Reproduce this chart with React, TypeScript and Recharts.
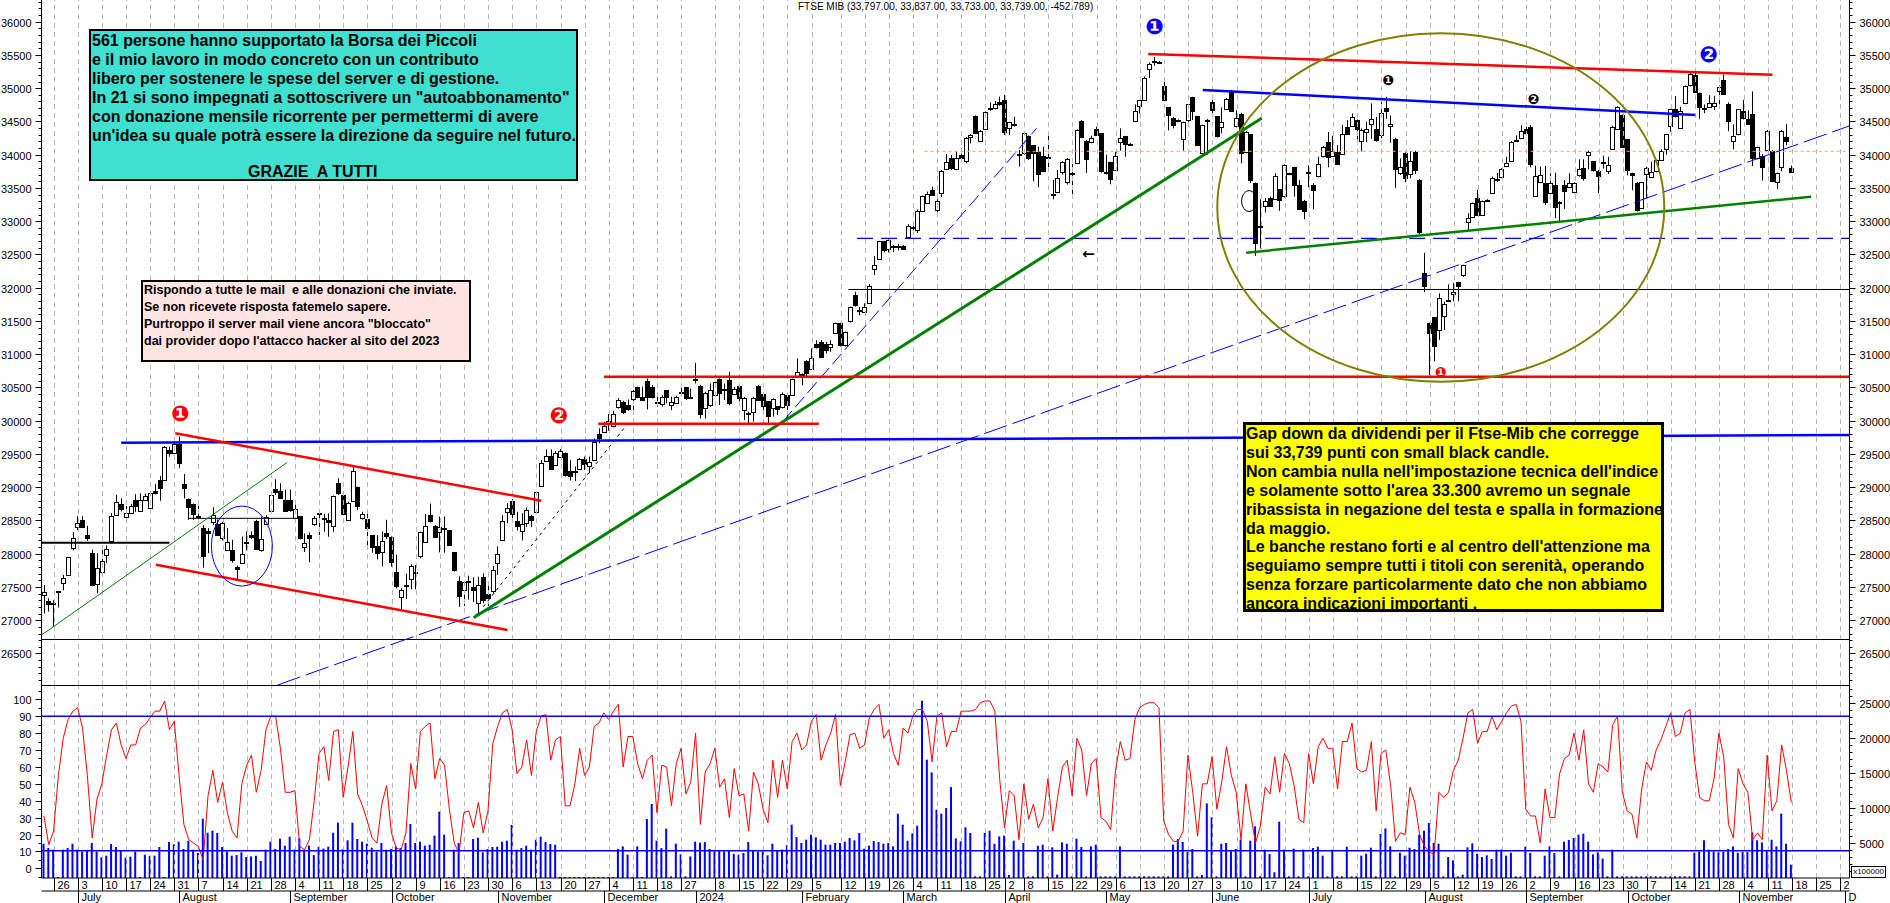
import { ComposedChart, Bar, Line, XAxis, YAxis, ReferenceLine, ReferenceDot } from "recharts";

const opens = [
  27370,27290,27260,27425,27570,27670,28090,28390,28500,28275,
  28005,27555,27720,27975,28180,28590,28755,28555,28615,28805,
  28650,28815,28690,28950,29105,29120,29560,29510,29650,29045,
  28830,28755,28560,28380,28340,28480,28445,28225,28055,28050,
  27805,27855,28155,28275,28490,28045,28440,28645,28970,28945,
  28815,28805,28530,28560,28105,28280,28435,28595,28540,28505,
  28425,29060,28880,28520,28795,29000,28530,28520,28280,28115,
  28025,28305,28245,27720,27350,27525,27625,27725,27955,28180,
  28575,28420,28330,28385,28350,28020,27585,27455,27585,27500,
  27250,27655,27400,27445,27855,28205,28615,28790,28485,28335,
  28450,28565,28630,29010,29400,29470,29330,29460,29510,29250,
  29235,29285,29430,29320,29420,29795,29835,29960,29910,30210,30285,30240,
  30335,30500,30350,30595,30510,30285,30260,30460,30230,30275,
  30420,30500,30360,30620,30525,30185,30235,30385,30625,30470,
  30610,30400,30520,30150,30105,30135,30525,30395,30295,30195,
  30220,30195,30385,30385,30675,30675,30895,30785,31150,31190,
  31160,31120,31315,31465,31130,31490,31890,31670,31640,31765,
  32290,32425,32695,32575,32620,32625,32630,32770,32910,32865,
  33145,33280,33465,33170,33415,33785,33945,33780,33990,33910,
  34260,34580,34210,34380,34695,34690,34790,34815,34395,34465,
  34010,34020,34280,34145,34045,33985,33965,33400,33430,33735,
  33585,33720,33870,34505,34205,34185,34380,34320,33735,33885,
  33780,34185,34280,34165,34500,34720,34820,35300,35385,35400,
  35035,34710,34545,34520,34230,34510,34865,34580,34020,34500,
  34790,34580,34420,34690,34950,34420,34610,34045,34305,33570,
  32910,33235,33345,33345,33480,33370,33720,33810,33550,33310,
  33740,33545,33670,33970,34195,33985,34045,34010,34420,34435,
  34520,34210,34330,34455,34380,34295,34695,34435,34230,33720,
  34025,33710,34040,33620,32215,31465,31555,31365,31565,31815,
  31900,32080,32190,32985,33055,33345,33105,33300,33435,33635,
  33655,33835,33915,34205,34260,34380,34420,33390,33580,
  33580,33435,33545,33295,33545,33510,33435,33685,33800,33995,
  33905,33755,33870,33760,34080,34390,34595,34235,33720,33580,
  33195,33720,33660,33745,33920,34085,34420,34680,34410,34770,
  35040,35200,34935,34700,34710,34725,34960,35125,34760,34205,
  34310,34650,34530,34610,33945,33980,34070,34060,33580,33810,
  34260,33797,
];

const highs = [
  27530,27330,27300,27440,27680,27950,28325,28565,28565,28420,
  28060,28005,28060,28125,28610,28885,28835,28720,28750,28895,
  28905,28905,28925,29050,29170,29620,29610,29735,29760,29200,
  28830,28755,28720,28430,28385,28700,28515,28480,28385,28210,
  27820,28260,28335,28335,28510,28560,28580,28895,29120,29060,
  28965,28965,28760,28560,28305,28320,28565,28620,28600,28610,
  28875,29135,28905,28780,29305,29010,28630,28605,28280,28280,
  28335,28510,28260,27985,27480,27700,27840,27830,28330,28595,
  28755,28430,28560,28560,28355,28020,27660,27580,27670,27645,
  27655,27705,27525,27815,28110,28580,28760,28820,28630,28610,
  28695,28585,28930,29410,29570,29570,29545,29575,29520,29410,
  29310,29440,29460,29460,29735,29885,29985,30100,30150,30340,30300,30320,
  30460,30510,30510,30635,30535,30360,30385,30460,30360,30375,
  30510,30510,30485,30870,30540,30435,30560,30585,30635,30560,
  30735,30510,30520,30360,30135,30360,30535,30410,30295,30335,
  30220,30425,30385,30635,30935,30710,30910,31085,31210,31210,
  31185,31210,31475,31475,31340,31715,31940,31710,31765,32055,
  32475,32705,32705,32725,32640,32660,32640,32955,32930,33175,
  33385,33445,33520,33330,33770,34010,33995,34045,34095,34260,
  34310,34590,34370,34650,34785,34810,34875,34900,34495,34570,
  34070,34330,34290,34145,34120,34120,34285,33620,33770,33900,
  33950,33860,34380,34520,34220,34285,34420,34320,34000,33895,
  34045,34395,34280,34175,34755,34820,35175,35385,35470,35410,
  35125,34710,34570,34530,34495,34760,34870,34585,34450,34535,
  34845,34580,34710,34850,34975,34670,34630,34360,34305,33580,
  33330,33345,33370,33720,33480,33855,33730,33820,33620,33320,
  33840,33570,33970,34130,34340,34285,34145,34450,34520,34620,
  34530,34395,34495,34770,34570,34795,34870,34590,34255,33945,
  34035,34055,34060,33635,32525,31475,31555,31915,31790,32050,
  32070,32090,32345,33120,33280,33470,33310,33330,33670,33720,
  33795,33970,34205,34290,34445,34420,34445,33835,33820,
  33830,33720,33730,33300,33620,33720,33585,33930,33930,34060,
  33905,33770,33985,33970,34435,34730,34605,34235,33730,33590,
  33585,33820,33895,33930,34080,34315,34690,34880,34720,35040,
  35250,35265,34935,34755,34895,34885,35040,35200,34785,34455,
  34690,34825,34665,34950,34120,34010,34370,34070,33730,34370,
  34460,33837,
];

const lows = [
  27100,27130,26900,27190,27450,27670,28050,28355,28385,28195,
  27510,27405,27710,27860,28155,28585,28635,28545,28615,28630,
  28640,28805,28665,28890,28795,29110,29460,29500,29285,28830,
  28510,28510,28510,27790,28010,28430,28265,28200,28045,27865,
  27600,27855,28050,28220,28065,28030,28430,28630,28880,28830,
  28655,28630,28520,28215,28025,27870,28420,28280,28330,28255,
  28330,28885,28580,28510,28780,28655,28515,28130,28015,27915,
  27810,28220,27805,27480,27165,27320,27465,27465,27930,28170,
  28470,28240,28020,28015,28120,27730,27200,27215,27310,27275,
  27100,27255,27215,27405,27680,28200,28460,28530,28350,28200,
  28405,28405,28620,29000,29385,29260,29320,29450,29160,29100,
  29095,29270,29260,29210,29400,29660,29820,29850,29900,30180,30100,30150,
  30110,30345,30300,30170,30335,30210,30210,30260,30160,30260,
  30410,30310,30335,30560,30035,30035,30210,30370,30235,30310,
  30235,30385,30260,30010,29960,29985,30300,30085,29960,30060,
  30085,30185,29985,30375,30660,30535,30670,30775,31085,30960,
  31010,31035,31305,31115,31115,31475,31715,31585,31630,31755,
  32190,32415,32530,32530,32535,32560,32580,32760,32815,32825,
  33135,33260,33385,33110,33365,33770,33770,33770,33935,33870,
  34170,34310,34195,34370,34660,34680,34735,34295,34295,34420,
  33820,34000,33920,33600,33510,33745,33740,33330,33420,33700,
  33550,33410,33860,34250,33725,34170,34285,33730,33700,33555,
  33770,34060,33970,34140,34490,34620,34815,35150,35340,35380,
  34815,34365,34395,34490,34060,34495,34520,34130,33990,34000,
  34620,34260,34320,34680,34660,34410,33870,34030,33570,32480,
  32590,33130,33220,33335,33155,33360,33690,33370,33170,33030,
  33510,33180,33660,33960,33810,33970,33845,33995,34300,34420,
  34230,34050,34190,34240,34195,34245,34540,34180,33500,33695,
  33585,33645,33710,32805,31930,30685,30895,31215,31365,31795,
  31795,31795,32165,32860,33045,33080,33095,33290,33420,33590,
  33645,33820,33905,34195,34250,34305,33810,33385,33570,
  33245,33420,33045,33000,33185,33495,33420,33670,33610,33780,
  33745,33420,33790,33710,34070,34380,34110,33690,33465,33145,
  33185,33345,33650,33735,33910,34000,34345,34560,34400,34760,
  35025,34935,34535,34625,34700,34670,34725,34900,34355,34080,
  34290,34530,34445,33830,33930,33610,34060,33605,33485,33750,
  34145,33733,
];

const closes = [
  27420,27240,27240,27435,27640,27945,28240,28455,28400,28225,
  27520,27790,27885,28065,28560,28780,28680,28615,28725,28720,
  28815,28870,28915,28915,28990,29610,29520,29650,29370,28980,
  28705,28600,28550,27955,28305,28585,28285,28455,28180,27895,
  27775,27990,28175,28240,28075,28215,28545,28890,28930,28840,
  28655,28655,28665,28225,28165,28240,28530,28605,28520,28480,
  28875,28905,28600,28770,29240,28720,28590,28390,28105,28015,
  28185,28255,27865,27505,27450,27505,27820,27705,28320,28420,
  28490,28255,28405,28365,28130,27755,27365,27570,27570,27455,
  27525,27315,27340,27755,27990,28485,28680,28595,28405,28440,
  28650,28505,28930,29360,29475,29270,29510,29545,29180,29180,
  29245,29430,29360,29380,29685,29735,29925,29990,30095,30310,30135,30180,
  30450,30345,30300,30360,30360,30270,30360,30360,30275,30360,
  30430,30335,30350,30610,30110,30410,30460,30575,30410,30450,
  30260,30470,30345,30335,30115,30345,30310,30210,30070,30325,
  30170,30395,30235,30620,30735,30695,30710,30950,31100,30970,
  31070,31160,31465,31140,31330,31705,31740,31660,31715,32025,
  32345,32695,32565,32715,32630,32610,32585,32935,32920,33150,
  33375,33415,33395,33310,33750,33885,33795,33945,33945,34255,
  34290,34320,34355,34640,34685,34755,34760,34330,34485,34455,
  34000,34320,33955,34020,33710,33755,33955,33410,33645,33890,
  33930,33705,34370,34260,33940,34245,34295,33745,33720,33630,
  33985,34245,34155,34155,34650,34815,35150,35370,35405,35390,
  34825,34595,34445,34505,34485,34755,34660,34145,34445,34520,
  34665,34280,34495,34840,34670,34545,34020,34345,33620,32665,
  32930,33310,33220,33685,33310,33840,33700,33535,33185,33160,
  33720,33470,33855,34110,33970,34060,33860,34305,34310,34570,
  34380,34370,34380,34530,34220,34620,34645,34465,33780,33810,
  33645,33910,33770,32840,32015,31315,31115,31840,31750,31795,
  31935,32015,32335,33045,33270,33090,33310,33320,33655,33615,
  33780,33880,34195,34215,34360,34320,33870,33685,33690,
  33295,33580,33220,33280,33460,33570,33570,33780,33655,34045,
  33765,33685,33890,33845,34410,34720,34120,33770,33685,33170,
  33585,33805,33735,33915,34060,34305,34680,34570,34660,35030,
  35210,34950,34725,34680,34770,34770,35015,34915,34510,34280,
  34680,34540,34460,33945,34110,33820,34355,33610,33720,34355,
  34195,33739,
];

// stochastic, left scale of the lower pane
const stoch = [
  31,14,22,55,77,88,93,95,83,55,
  18,41,50,67,82,86,73,65,73,73,
  83,85,89,93,93,99,82,87,55,26,
  17,15,13,5,43,58,39,51,33,22,
  18,50,61,67,45,58,82,90,90,71,
  45,45,46,13,11,17,40,68,72,52,
  81,82,42,60,81,44,37,28,18,15,
  38,49,21,12,11,21,62,47,81,84,
  86,53,65,61,35,15,9,33,34,24,
  39,21,34,74,84,92,94,82,56,60,
  76,55,81,90,91,64,76,78,37,37,
  50,71,55,60,84,86,92,88,93,97,60,78,
  78,62,53,64,67,33,61,60,37,62,
  71,44,51,80,26,57,62,71,48,53,
  30,59,43,44,22,57,50,35,27,64,
  42,64,47,75,80,70,73,87,91,64,
  73,80,91,49,63,79,80,71,73,89,
  94,97,77,82,68,61,83,80,90,94,
  94,87,63,90,92,72,81,81,93,93,
  93,94,98,99,99,93,53,24,46,43,
  17,50,29,38,24,30,53,22,42,60,
  64,43,77,70,43,62,65,30,28,23,
  58,75,64,65,88,95,97,98,98,95,
  28,20,16,16,22,67,45,19,50,50,
  66,35,51,72,55,45,17,50,32,15,
  25,48,44,66,45,68,62,49,29,27,
  68,50,72,77,71,71,47,75,75,86,
  59,57,58,75,34,68,70,49,16,21,
  20,48,39,20,13,10,8,45,42,45,
  58,64,77,92,94,74,81,81,90,82,
  87,92,96,97,87,35,31,31,15,47,
  30,30,56,65,67,80,64,82,50,45,
  62,60,57,85,90,45,34,32,18,47,63,
  58,70,76,84,92,78,80,92,94,63,
  42,40,40,53,80,66,26,18,59,50,
  45,17,21,17,67,34,40,73,58,39,
];

// volume, right scale of the lower pane (x100000)
const volume = [
  4900,4280,4050,140,4050,4280,4900,4050,3760,3860,
  5000,3760,2950,3190,4860,4430,4000,2900,3050,3760,
  140,3330,3140,3190,4430,140,5140,4810,5190,4140,
  5330,4050,3570,8470,6470,6760,6430,4430,3760,3190,
  3280,3670,3000,3090,3190,2430,4050,5190,4140,5620,
  4620,5900,4050,5660,4050,4620,3280,4430,4200,4470,6470,
  7900,4090,5380,7900,5570,5190,4900,4330,3760,5000,
  4050,4140,4520,4280,5000,7710,5000,5190,4620,4760,
  6050,9470,6190,140,4050,5000,140,140,5570,5760,
  3670,4140,4430,4470,5190,5330,7570,4050,4280,4620,
  4050,5470,5900,5140,4860,4760,
  140,140,140,140,140,140,140,140,140,140,140,140,
  4140,4520,3330,
  140,4520,140,8430,10570,5330,4280,7040,240,4900,
  3380,240,3090,5190,5050,5140,4140,3810,3900,3810,
  3950,3430,3330,3570,5140,3950,3760,3760,3240,4900,
  4000,4050,4660,7620,5850,5000,5470,6190,5810,5470,
  4760,4760,5000,5000,5190,5710,5380,6430,4190,4620,
  5280,5140,4900,5000,4520,9190,7620,5330,6380,7470,
  25320,16900,15090,9760,9190,10000,12990,5660,5240,7240,
  6430,240,240,6430,6760,4900,5950,6050,430,5330,
  4050,5000,240,240,4620,4760,240,4380,480,5090,
  4900,240,5620,4430,240,4520,4760,240,240,240,
  240,4520,240,240,240,240,240,240,240,240,240,
  240,4760,5570,5140,3710,4140,240,430,10660,8660,
  240,4900,5000,3810,4140,5470,240,5330,7380,
  240,4050,3430,810,8040,4050,240,4190,240,4050,
  240,4280,4470,3190,240,4050,240,240,4470,240,
  240,3190,3470,4330,240,6280,7090,4520,240,3620,
  3190,4330,4140,6190,6760,7850,5000,4900,240,3000,
  2520,240,480,4380,4950,3470,3000,3240,2710,4050,
  4050,3190,3620,240,240,4470,3570,240,240,3190,
  4520,3570,240,5190,5430,5710,6190,6330,5190,3380,
  3670,2760,240,4050,240,
  240,240,240,240,240,240,240,240,240,240,240,240,240,240,240,
  3620,3760,5380,4050,3760,3670,3760,4140,4520,3620,
  3710,3710,6520,5380,5090,3810,5470,4520,9190,4900,
  1900,
];

const weekSlots = [
  2,7,12,17,22,27,32,37,42,47,52,57,62,67,72,77,82,87,92,97,102,107,112,117,122,127,132,
  139,144,149,154,159,165,170,175,180,185,190,195,199,203,208,213,218,222,227,232,237,242,247,
  252,257,262,267,272,277,282,287,292,297,302,307,312,317,322,327,332,337,342,347,352,357,362,367,372,
];
const weekLabels = [
  "26","3","10","17","24","31","7","14","21","28","4","11","18","25","2","9","16","23","30","6","13","20","27","4","11","18","27",
  "8","15","22","29","5","12","19","26","4","11","18","25","2","8","15","22","29","6","13","20","27","3","10",
  "17","24","1","8","15","22","29","5","12","19","26","2","9","16","23","30","7","14","21","28","4","11","18","25","2",
];
const monthSlots = [7,28,51,72,94,116,135,157,178,199,220,242,262,286,307,328,351,373];
const monthLabels = ["July","August","September","October","November","December","2024","February","March","April","May","June","July","August","September","October","November","D"];

const priceLabels = [26500,27000,27500,28000,28500,29000,29500,30000,30500,31000,31500,32000,32500,33000,33500,34000,34500,35000,35500,36000];
const priceMinor = Array.from({ length: 103 }, (_, i) => 26100 + i * 100);
const stochLabels = [0,10,20,30,40,50,60,70,80,90,100];
const stochMinor = Array.from({ length: 23 }, (_, i) => -5 + i * 5);
const volLabels = [5000,10000,15000,20000,25000];
const volMinor = Array.from({ length: 27 }, (_, i) => 1000 + i * 1000);

const SLOTS = 374;
const X_DOMAIN: [number, number] = [-0.5, 373.95];
const PRICE_DOMAIN: [number, number] = [26026, 36326];
const STOCH_DOMAIN: [number, number] = [-5.68, 108.46];
const VOL_DOMAIN: [number, number] = [0, 27571];

const rows = Array.from({ length: SLOTS }, (_, i) => ({
  idx: i,
  open: opens[i],
  high: highs[i],
  low: lows[i],
  close: closes[i],
  stoch: stoch[i],
  volume: volume[i],
}));

const font = "'Liberation Sans', Arial, sans-serif";
const BLUE = "#0000ff";
const RED = "#ff0000";
const GREEN = "#008000";

// trend lines: [slot, price, slot, price, colour, width, dash]
const trendLines: [number, number, number, number, string, number, string?][] = [
  [-0.5, 26710, 373.95, 26710, "#000", 1],
  [-0.5, 28165, 26, 28165, "#000", 2],
  [30, 28532, 52.5, 28532, "#000", 1],
  [166.6, 31973, 373.95, 31973, "#000", 1],
  [182.4, 34051, 373.95, 34051, "#f4a460", 1, "3 3"],
  [168.4, 32743, 373.95, 32743, BLUE, 1.2, "16 8"],
  [91, 27203, 121, 29965, "#000", 1, "3 4"],
  [153, 29985, 205.6, 34397, BLUE, 1, "14 5"],
  [48.4, 26026, 373.95, 34433, BLUE, 1, "24 6"],
  [-0.5, 26777, 50.4, 29374, GREEN, 1],
  [89, 27038, 252.2, 34547, GREEN, 3],
  [249, 32526, 366, 33368, GREEN, 2.5],
  [16, 29670, 373.95, 29785, BLUE, 2.5],
  [240, 34973, 342, 34597, BLUE, 2.5],
  [27.2, 29810, 103, 28797, RED, 2.5],
  [23.2, 27835, 96, 26853, RED, 2.5],
  [114.8, 29955, 160.5, 29955, RED, 2.5],
  [116, 30662, 373.95, 30662, RED, 2.5],
  [228.7, 35514, 358, 35203, RED, 2.5],
];

// numbered marks: slot, price, glyph, colour, font size
const marks: [number, number, string, string, number][] = [
  [28.3, 30111, "\u2776", RED, 22],
  [106.7, 30090, "\u2777", RED, 22],
  [230.1, 35928, "\u2776", BLUE, 22],
  [344.8, 35510, "\u2777", BLUE, 22],
  [278.4, 35128, "\u2776", "#000", 14],
  [308.5, 34833, "\u2777", "#000", 14],
  [289.3, 30737, "\u2776", RED, 14],
  [216.3, 32507, "\u2190", "#000", 15],
];

const tealLines = [
  "561 persone hanno supportato la Borsa dei Piccoli",
  "e il mio lavoro in modo concreto con un contributo",
  "libero per sostenere le spese del server e di gestione.",
  'In 21 si sono impegnati a sottoscrivere un "autoabbonamento"',
  "con donazione mensile ricorrente per permettermi di avere",
  "un'idea su quale potrà essere la direzione da seguire nel futuro.",
];
const pinkLines = [
  "Rispondo a tutte le mail  e alle donazioni che inviate.",
  "Se non ricevete risposta fatemelo sapere.",
  'Purtroppo il server mail viene ancora "bloccato"',
  "dai provider dopo l'attacco hacker al sito del 2023",
];
const yellowLines = [
  "Gap down da dividendi per il Ftse-Mib che corregge",
  "sui 33,739 punti con small black candle.",
  "Non cambia nulla nell'impostazione tecnica dell'indice",
  "e solamente sotto l'area 33.300 avremo un segnale",
  "ribassista in negazione del testa e spalla in formazione",
  "da maggio.",
  "Le banche restano forti e al centro dell'attenzione ma",
  "seguiamo sempre tutti i titoli con serenità, operando",
  "senza forzare particolarmente dato che non abbiamo",
  "ancora indicazioni importanti .",
];

function Candle(props: any) {
  const { x, y, width, height, payload } = props;
  if (payload.high == null) return null;
  const cx = Math.round(x + width / 2);
  const span = payload.high - payload.low || 1;
  const at = (v: number) => y + ((payload.high - v) / span) * height;
  const top = at(Math.max(payload.open, payload.close));
  const bottom = at(Math.min(payload.open, payload.close));
  const up = payload.close >= payload.open;
  return (
    <g>
      <line x1={cx + 0.5} x2={cx + 0.5} y1={y} y2={y + height} stroke="#000" />
      <rect
        x={cx - 1.5}
        y={Math.round(top) + 0.5}
        width={4}
        height={Math.max(1, Math.round(bottom - top))}
        fill={up ? "#fff" : "#000"}
        stroke="#000"
      />
    </g>
  );
}

function axisTick(labels: number[], side: "left" | "right") {
  return (props: any) => {
    const { x, payload } = props;
    const y = Math.round(props.y) + 0.5;
    const major = labels.includes(payload.value);
    const dir = side === "left" ? -1 : 1;
    return (
      <g>
        <line x1={x} x2={x + dir * (major ? 6 : 3)} y1={y} y2={y} stroke="#000" />
        {major && (
          <text x={x + dir * 10} y={y + 4} textAnchor={side === "left" ? "end" : "start"} fontSize={11} fontFamily={font} fill="#000">
            {payload.value}
          </text>
        )}
      </g>
    );
  };
}

function rowTick(slots: number[], labels: string[], rowHeight: number) {
  return (props: any) => {
    const { payload, y } = props;
    const x = Math.round(props.x) + 0.5;
    const label = labels[slots.indexOf(payload.value)];
    return (
      <g>
        <line x1={x} x2={x} y1={y} y2={y + rowHeight} stroke="#000" />
        <text x={x + 3} y={y + rowHeight - 2} fontSize={11} fontFamily={font} fill="#000">
          {label}
        </text>
      </g>
    );
  };
}

const gridShape = (p: any) => {
  const x = Math.round(p.x1) + 0.5;
  return <line x1={x} x2={x} y1={p.y1} y2={p.y2} stroke="#b8b8b8" strokeDasharray="5 4" />;
};

function grid() {
  return weekSlots.map((s) => (
    <ReferenceLine key={s} xAxisId="n" yAxisId="l" x={s} shape={gridShape} />
  ));
}

function TextBox({ left, top, width, height, fill, border, fontSize, lineHeight, pad, lines, children }: any) {
  return (
    <div
      style={{
        position: "absolute", left, top, width, height, background: fill,
        border: `${border}px solid #000`, boxSizing: "border-box", paddingLeft: pad,
        fontFamily: font, fontWeight: "bold", fontSize, lineHeight: `${lineHeight}px`,
        whiteSpace: "pre", color: "#000", overflow: "hidden",
      }}
    >
      {lines.map((t: string, i: number) => <div key={i}>{t}</div>)}
      {children}
    </div>
  );
}

export default function App() {
  return (
    <div style={{ position: "absolute", left: 0, top: 0, width: 1890, height: 903, background: "#fff", overflow: "hidden" }}>
      <div style={{ position: "absolute", left: 0, top: 0 }}>
        <ComposedChart width={1890} height={685} data={rows} margin={{ top: 0, right: 0, bottom: 0, left: 0 }} barCategoryGap={0}>
          <XAxis xAxisId="cat" dataKey="idx" hide height={0} padding={{ left: 0, right: 2.7 }} />
          <XAxis xAxisId="n" dataKey="idx" type="number" domain={X_DOMAIN} allowDataOverflow hide height={0} />
          <YAxis yAxisId="l" orientation="left" width={41.5} domain={PRICE_DOMAIN} allowDataOverflow ticks={priceMinor} interval={0}
            tick={axisTick(priceLabels, "left")} tickLine={false} tickSize={0} tickMargin={0} axisLine={{ stroke: "#000" }} />
          <YAxis yAxisId="r" orientation="right" width={40.5} domain={PRICE_DOMAIN} allowDataOverflow ticks={priceMinor} interval={0}
            tick={axisTick(priceLabels, "right")} tickLine={false} tickSize={0} tickMargin={0} axisLine={{ stroke: "#000" }} />
          {grid()}
          <Bar xAxisId="cat" yAxisId="l" dataKey={(d: any) => (d.high == null ? null : [d.low, d.high])} barSize={5} shape={Candle} isAnimationActive={false} />
          {trendLines.map(([x1, y1, x2, y2, color, w, dash], i) => (
            <ReferenceLine key={i} xAxisId="n" yAxisId="l" ifOverflow="visible"
              segment={[{ x: x1, y: y1 }, { x: x2, y: y2 }]} stroke={color} strokeWidth={w} strokeDasharray={dash} />
          ))}
          <ReferenceDot xAxisId="n" yAxisId="l" x={41} y={28115} r={30} ifOverflow="visible"
            shape={(p: any) => <ellipse cx={p.cx} cy={p.cy} rx={30.5} ry={40} fill="none" stroke={BLUE} />} />
          <ReferenceDot xAxisId="n" yAxisId="l" x={289.3} y={33206} r={100} ifOverflow="visible"
            shape={(p: any) => <ellipse cx={p.cx} cy={p.cy} rx={223.5} ry={174.2} fill="none" stroke="#808000" strokeWidth={2} />} />
          <ReferenceDot xAxisId="n" yAxisId="l" x={249.6} y={33303} r={8} ifOverflow="visible"
            shape={(p: any) => <ellipse cx={p.cx} cy={p.cy} rx={7.5} ry={10.5} fill="none" stroke="#000" />} />
          {marks.map(([slot, price, glyph, color, size], i) => (
            <ReferenceDot key={i} xAxisId="n" yAxisId="l" x={slot} y={price} r={8} ifOverflow="visible"
              shape={(p: any) => (
                <text x={p.cx} y={p.cy + size * 0.36} textAnchor="middle" fontSize={size} fontFamily="'DejaVu Sans'" fontWeight="bold" fill={color}>
                  {glyph}
                </text>
              )} />
          ))}
        </ComposedChart>
      </div>

      <div style={{ position: "absolute", left: 0, top: 685 }}>
        <ComposedChart width={1890} height={218} data={rows} margin={{ top: 0, right: 0, bottom: 0, left: 0 }} barCategoryGap={0}>
          <XAxis xAxisId="cat" dataKey="idx" hide height={0} padding={{ left: 0, right: 2.7 }} />
          {/* the axis with id "m" stacks above "n", so "m" carries the week row */}
          <XAxis xAxisId="m" dataKey="idx" type="number" domain={X_DOMAIN} allowDataOverflow height={13} ticks={weekSlots} interval={0}
            tick={rowTick(weekSlots, weekLabels, 13)} tickLine={false} tickSize={0} tickMargin={0} axisLine={{ stroke: "#000" }} />
          <XAxis xAxisId="n" dataKey="idx" type="number" domain={X_DOMAIN} allowDataOverflow height={12} ticks={monthSlots} interval={0}
            tick={rowTick(monthSlots, monthLabels, 12)} tickLine={false} tickSize={0} tickMargin={0} axisLine={{ stroke: "#000" }} />
          <YAxis yAxisId="l" orientation="left" width={41.5} domain={STOCH_DOMAIN} allowDataOverflow ticks={stochMinor} interval={0}
            tick={axisTick(stochLabels, "left")} tickLine={false} tickSize={0} tickMargin={0} axisLine={{ stroke: "#000" }} />
          <YAxis yAxisId="r" orientation="right" width={40.5} domain={VOL_DOMAIN} allowDataOverflow ticks={volMinor} interval={0}
            tick={axisTick(volLabels, "right")} tickLine={false} tickSize={0} tickMargin={0} axisLine={{ stroke: "#000" }} />
          {grid()}
          <Bar xAxisId="cat" yAxisId="r" dataKey="volume" fill={BLUE} barSize={2} isAnimationActive={false} />
          <Line xAxisId="cat" yAxisId="l" dataKey="stoch" stroke={RED} strokeWidth={1} dot={false} isAnimationActive={false} connectNulls={false} />
          <ReferenceLine yAxisId="l" xAxisId="n" y={90} stroke={BLUE} strokeWidth={1.5} />
          <ReferenceLine yAxisId="l" xAxisId="n" y={10.4} stroke={BLUE} strokeWidth={1.5} />
          <ReferenceLine yAxisId="l" xAxisId="n" y={108.16} stroke="#000" strokeWidth={1} />
        </ComposedChart>
      </div>

      <div style={{ position: "absolute", left: 798, top: 1, fontFamily: font, fontSize: 10, whiteSpace: "pre", color: "#000" }}>
        FTSE MIB (33,797.00, 33,837.00, 33,733.00, 33,739.00, -452.789)
      </div>

      <TextBox left={89} top={29} width={489} height={152} fill="#40e0d0" border={2} fontSize={16} lineHeight={19} pad={1} lines={tealLines}>
        <div style={{ position: "absolute", left: 157, top: 131 }}>GRAZIE  A TUTTI</div>
      </TextBox>
      <TextBox left={141} top={280} width={330} height={82} fill="#ffe4e1" border={2} fontSize={12.5} lineHeight={17} pad={1} lines={pinkLines} />
      <TextBox left={1243} top={422} width={421} height={190} fill="#ffff00" border={3} fontSize={16} lineHeight={18.9} pad={0} lines={yellowLines} />

      <div style={{ position: "absolute", left: 1851, top: 866, width: 35, height: 12, border: "1px solid #000", boxSizing: "border-box", fontFamily: font, fontSize: 8, lineHeight: "10px", textAlign: "center", background: "#fff" }}>
        x100000
      </div>
    </div>
  );
}
